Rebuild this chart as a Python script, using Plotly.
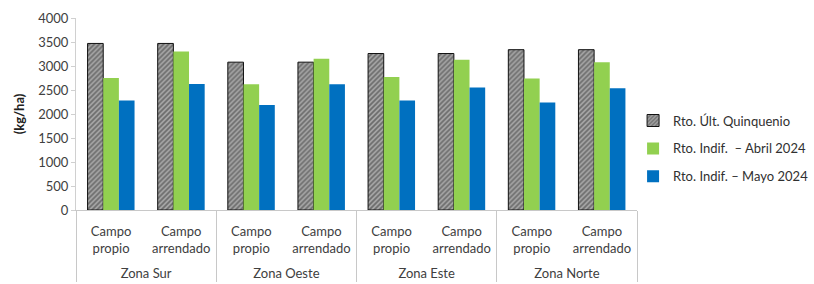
import plotly.graph_objects as go

zonas = ["Zona Sur", "Zona Oeste", "Zona Este", "Zona Norte"]
campos = ["Campo<br>propio", "Campo<br>arrendado"]
quinquenio = [3470, 3470, 3080, 3080, 3260, 3260, 3340, 3340]
abril = [2750, 3300, 2620, 3150, 2770, 3130, 2740, 3080]
mayo = [2280, 2625, 2190, 2620, 2280, 2550, 2240, 2535]
yticks = [0, 500, 1000, 1500, 2000, 2500, 3000, 3500, 4000]

x_zona = ["<br>" + z for z in zonas for _ in campos]
x_campo = [c for _ in zonas for c in campos]
x = [x_zona, x_campo]

FONT = "Lato, 'Open Sans', sans-serif"

fig = go.Figure()
fig.add_trace(go.Bar(
    x=x, y=quinquenio, name="Rto. Últ. Quinquenio", legendgroup="a",
    marker=dict(color="#8a8a8a",
                pattern=dict(shape="/", fgcolor="#303030", bgcolor="#a8a8a8", size=3.5, solidity=0.5),
                line=dict(color="#111111", width=1)),
))
fig.add_trace(go.Bar(
    x=x, y=abril, name="Rto. Indif.  – Abril 2024", legendgroup="b",
    marker=dict(color="#92d050", line=dict(width=0)),
))
fig.add_trace(go.Bar(
    x=x, y=mayo, name="Rto. Indif. – Mayo 2024", legendgroup="c",
    marker=dict(color="#0070c0", line=dict(width=0)),
))

fig.update_layout(
    width=814, height=284,
    margin=dict(l=76, r=177, t=18, b=74, autoexpand=False),
    plot_bgcolor="white", paper_bgcolor="white",
    barmode="group", bargap=0.33, bargroupgap=0,
    font=dict(family=FONT, size=13, color="#404040"),
    legend=dict(x=0.993, y=0.32, xanchor="left", yanchor="middle",
                font=dict(size=13, color="#303030"), itemwidth=30,
                tracegroupgap=8, bgcolor="rgba(0,0,0,0)"),
    showlegend=True,
)
fig.update_yaxes(
    range=[0, 4000], tickvals=yticks, showgrid=False, automargin=False,
    showline=True, linecolor="#d0d0d0", linewidth=1,
    ticks="outside", ticklen=4, tickcolor="#d0d0d0",
    tickfont=dict(size=13, color="#404040"),
    title=dict(text="<b>(kg/ha)</b>", font=dict(size=13, color="#202020"), standoff=10),
    zeroline=False,
)
fig.update_xaxes(
    type="multicategory", showgrid=False, tickangle=0, automargin=False,
    showline=True, linecolor="#c8c8c8", linewidth=1,
    showdividers=True, dividercolor="#c8c8c8", dividerwidth=1,
    ticklabelstandoff=9,
    tickfont=dict(size=13, color="#404040"),
)

fig.write_html("out.html", post_script="document.body.style.margin='0';",
               config={"displayModeBar": False})
